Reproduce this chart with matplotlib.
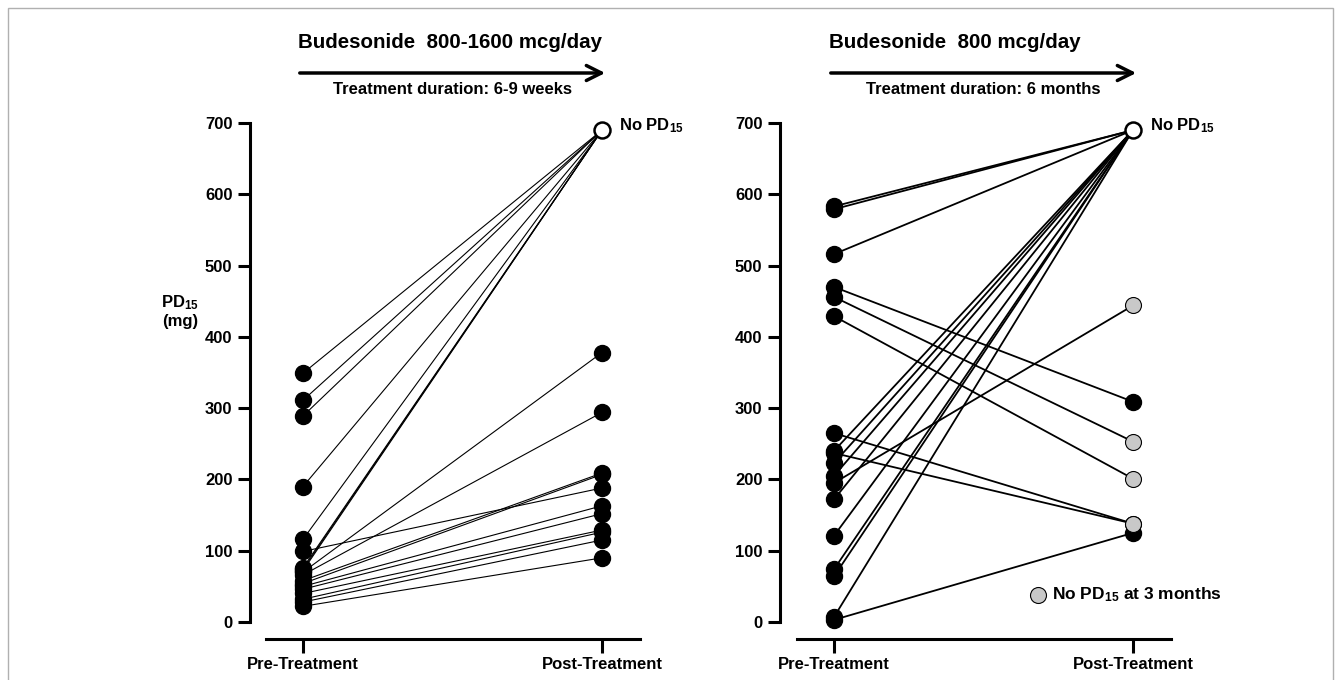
import numpy as np
import matplotlib
matplotlib.use('Agg')
import matplotlib.pyplot as plt
from matplotlib.patches import FancyArrowPatch, Rectangle
from matplotlib.lines import Line2D

plt.rcParams['font.family'] = ['Liberation Sans', 'DejaVu Sans']
plt.rcParams['font.weight'] = 'bold'
plt.rcParams['mathtext.fontset'] = 'custom'
plt.rcParams['mathtext.rm'] = 'Liberation Sans:bold'
plt.rcParams['mathtext.it'] = 'Liberation Sans:bold'
plt.rcParams['mathtext.bf'] = 'Liberation Sans:bold'

# valor usado para "No PD15" (fuera de escala)
NO_PD = 690

# panel izquierdo: 800-1600 mcg/day, 6-9 semanas
pre_left = [349, 311, 289, 190, 116, 76, 74, 72, 99, 70, 66, 58, 54, 50, 46, 40, 32, 28, 22]
post_left = [NO_PD, NO_PD, NO_PD, NO_PD, NO_PD, NO_PD, NO_PD, NO_PD,
             188, 378, 294, 209, 207, 163, 152, 129, 126, 115, 90]
gray_left = [False] * len(post_left)

# panel derecho: 800 mcg/day, 6 meses
pre_right = [583, 579, 516, 470, 456, 429, 265, 240, 237, 223, 205, 195, 172, 121, 74, 64, 7, 3]
post_right = [NO_PD, NO_PD, NO_PD, 309, 253, 201, 138, NO_PD, 138, NO_PD, NO_PD, 444,
              NO_PD, NO_PD, NO_PD, NO_PD, NO_PD, 125]
gray_right = [False, False, False, False, True, True, True, False, True, False, False, True,
              False, False, False, False, False, False]

titles = ['Budesonide  800-1600 mcg/day', 'Budesonide  800 mcg/day']
durations = ['Treatment duration: 6-9 weeks', 'Treatment duration: 6 months']
yticks = [0, 100, 200, 300, 400, 500, 600, 700]
xlabels = ['Pre-Treatment', 'Post-Treatment']

W, H = 1341, 680
fig = plt.figure(figsize=(W / 100, H / 100), dpi=100)

def fx(px):
    return px / W

def fy(py):
    return 1 - py / H

GRAY = '#c8c8c8'
MS = 11.5
pre_px = [303, 834]      # posición en píxeles de Pre-Treatment
spine_px = [250, 780]
unit = 299.0             # píxeles entre pre y post

for k, (pre, post, gray, lw) in enumerate([(pre_left, post_left, gray_left, 0.8),
                                            (pre_right, post_right, gray_right, 1.3)]):
    x0 = (spine_px[k] - pre_px[k]) / unit
    ax = fig.add_axes([fx(spine_px[k]), fy(622), 392 / W, 499 / H])
    ax.set_xlim(x0, x0 + 392 / unit)
    ax.set_ylim(0, 700)

    # líneas emparejadas
    for a, b in zip(pre, post):
        ax.plot([0, 1], [a, b], color='black', lw=lw, zorder=1, clip_on=False)
    ax.plot(np.zeros(len(pre)), pre, 'o', ms=MS, mfc='black', mec='black', zorder=3, clip_on=False)
    post = np.array(post)
    gray = np.array(gray)
    solid = (post != NO_PD) & (~gray)
    ax.plot(np.ones(solid.sum()), post[solid], 'o', ms=MS, mfc='black', mec='black', zorder=3, clip_on=False)
    ax.plot(np.ones(gray.sum()), post[gray], 'o', ms=MS, mfc=GRAY, mec='black', mew=0.8, zorder=4, clip_on=False)
    ax.plot([1], [NO_PD], 'o', ms=MS, mfc='white', mec='black', mew=1.8, zorder=5, clip_on=False)

    for s in ['top', 'right']:
        ax.spines[s].set_visible(False)
    ax.spines['left'].set_linewidth(2.2)
    ax.spines['bottom'].set_linewidth(2.2)
    ax.spines['bottom'].set_position(('outward', 12.2))
    ax.spines['bottom'].set_bounds(-0.124, 1.127)
    ax.set_yticks(yticks)
    ax.set_xticks([0, 1])
    ax.set_xticklabels(xlabels)
    ax.tick_params(axis='y', direction='out', length=8.6, width=2.2, labelsize=12, pad=4)
    ax.tick_params(axis='x', direction='out', length=10, width=2.2, labelsize=12, pad=3)
    for t in ax.get_xticklabels() + ax.get_yticklabels():
        t.set_fontweight('bold')
    ax.patch.set_visible(False)

    # título, flecha y duración
    fig.text(fx(pre_px[k] - 5), fy(42), titles[k], fontsize=14.8, fontweight='bold', ha='left', va='center')
    arr = FancyArrowPatch((fx(pre_px[k] - 6), fy(73)), (fx(pre_px[k] + 305), fy(73)),
                          transform=fig.transFigure, arrowstyle='->', mutation_scale=27,
                          lw=2.5, color='black')
    fig.add_artist(arr)
    fig.text(fx(pre_px[k] + unit / 2), fy(90), durations[k], fontsize=12, fontweight='bold',
             ha='center', va='center')
    fig.text(fx(pre_px[k] + unit + 17), fy(126), 'No PD$_{15}$', fontsize=12, fontweight='bold',
             ha='left', va='center')

# etiqueta del eje y
fig.text(fx(180), fy(311), 'PD$_{15}$\n(mg)', fontsize=12, fontweight='bold', ha='center', va='center',
         multialignment='center')

# leyenda
fig.add_artist(Line2D([fx(1038)], [fy(595)], marker='o', ms=MS, mfc=GRAY, mec='black', mew=0.8,
                      transform=fig.transFigure))
fig.text(fx(1052), fy(595), 'No PD$_{15}$ at 3 months', fontsize=12.5, fontweight='bold', ha='left', va='center')

# marco de la figura
fig.add_artist(Rectangle((fx(8), -0.05), fx(1333 - 8), 1.05 - 8 / H, fill=False,
                         edgecolor='#b0b0b0', lw=1, transform=fig.transFigure))

fig.savefig('out.png', dpi=100)
